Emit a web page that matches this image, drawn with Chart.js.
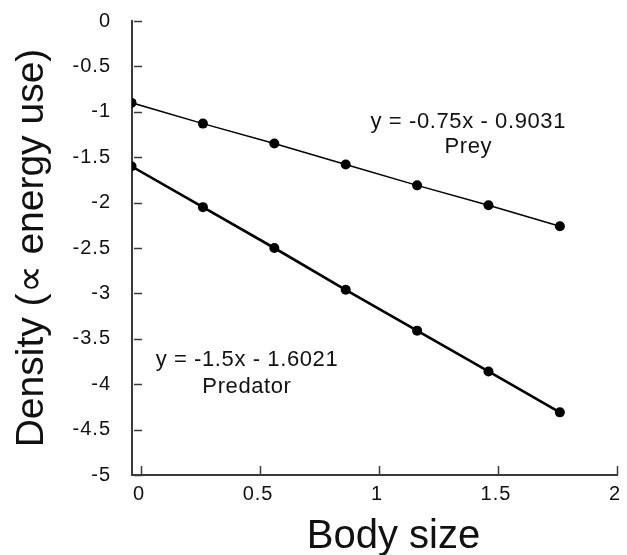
<!DOCTYPE html>
<html>
<head>
<meta charset="utf-8">
<script src="https://cdn.jsdelivr.net/npm/chart.js@4"></script>
<style>
  html, body { margin: 0; padding: 0; background: #fff; }
  #wrap { width: 627px; height: 555px; position: relative; }
</style>
</head>
<body>
<div id="wrap"><canvas id="c" width="627" height="555"></canvas></div>
<script>
// ---- data ----
const bodySize = [-0.04, 0.26, 0.56, 0.86, 1.16, 1.46, 1.76];
const preyDensity = [-0.90, -1.13, -1.35, -1.58, -1.81, -2.03, -2.26];
const predatorDensity = [-1.60, -2.05, -2.50, -2.96, -3.41, -3.86, -4.31];
const xTicks = [0, 0.5, 1, 1.5, 2];
const yTicks = [0, -0.5, -1, -1.5, -2, -2.5, -3, -3.5, -4, -4.5, -5];
const preyLabels = ["y = -0.75x - 0.9031", "Prey"];
const predatorLabels = ["y = -1.5x - 1.6021", "Predator"];
const xTitle = "Body size";
const yTitle = "Density (\u221D energy use)";

// annotation anchors in data units
const annotations = [
  { lines: preyLabels, x: 1.375, y: [-1.18, -1.455] },
  { lines: predatorLabels, x: 0.445, y: [-3.805, -4.10] }
];

const FONT = "'Liberation Sans', Arial, sans-serif";
const AXIS_COLOR = '#3a3a3a';
const TEXT_COLOR = '#111';

const toPts = (xs, ys) => xs.map((x, i) => ({ x: x, y: ys[i] }));

const decorPlugin = {
  id: 'decor',
  beforeDraw(chart) {
    chart.ctx.letterSpacing = '1px';
  },
  afterDraw(chart) {
    const ctx = chart.ctx;
    const xs = chart.scales.x, ys = chart.scales.y;
    const ca = chart.chartArea;
    ctx.save();
    // tick marks (inward)
    ctx.strokeStyle = AXIS_COLOR;
    ctx.lineWidth = 1.5;
    ctx.beginPath();
    yTicks.forEach(v => {
      const py = Math.round(ys.getPixelForValue(v)) + 0.5;
      ctx.moveTo(ca.left + 2, py);
      ctx.lineTo(ca.left + 10, py);
    });
    xTicks.forEach(v => {
      const px = Math.round(xs.getPixelForValue(v)) + 0.5;
      ctx.moveTo(px, ca.bottom);
      ctx.lineTo(px, ca.bottom - 9);
    });
    ctx.stroke();

    // annotations
    ctx.fillStyle = TEXT_COLOR;
    ctx.letterSpacing = '0.6px';
    ctx.font = '22px ' + FONT;
    ctx.textAlign = 'center';
    ctx.textBaseline = 'alphabetic';
    annotations.forEach(a => {
      const px = xs.getPixelForValue(a.x);
      a.lines.forEach((t, i) => {
        ctx.fillText(t, px, ys.getPixelForValue(a.y[i]));
      });
    });

    // axis titles
    ctx.letterSpacing = '0px';
    ctx.font = '40px ' + FONT;
    ctx.textAlign = 'center';
    ctx.textBaseline = 'alphabetic';
    ctx.fillText(xTitle, (ca.left + ca.right) / 2 + 19, chart.height - 7);

    ctx.font = '39px ' + FONT;
    ctx.translate(43, (ca.top + ca.bottom) / 2);
    ctx.rotate(-Math.PI / 2);
    ctx.fillText(yTitle, 0, 0);
    ctx.restore();
  }
};

new Chart(document.getElementById('c'), {
  type: 'scatter',
  data: {
    datasets: [
      {
        label: 'Prey',
        data: toPts(bodySize, preyDensity),
        showLine: true,
        borderColor: '#000',
        backgroundColor: '#000',
        borderWidth: 1.5,
        pointRadius: 5,
        pointBackgroundColor: '#000',
        pointBorderWidth: 0
      },
      {
        label: 'Predator',
        data: toPts(bodySize, predatorDensity),
        showLine: true,
        borderColor: '#000',
        backgroundColor: '#000',
        borderWidth: 2.6,
        pointRadius: 5,
        pointBackgroundColor: '#000',
        pointBorderWidth: 0
      }
    ]
  },
  options: {
    responsive: false,
    animation: false,
    devicePixelRatio: 1,
    layout: { padding: { top: 21, right: 10, left: 0, bottom: 0 } },
    plugins: { legend: { display: false }, tooltip: { enabled: false } },
    scales: {
      x: {
        type: 'linear',
        min: -0.038,
        max: 2,
        afterBuildTicks(s) { s.ticks = xTicks.map(v => ({ value: v })); },
        afterFit(s) { s.height = 80; s.paddingLeft = 0; s.paddingRight = 0; },
        grid: { display: false, drawTicks: false },
        border: { display: true, color: AXIS_COLOR, width: 2 },
        ticks: {
          padding: 7,
          labelOffset: -2,
          color: TEXT_COLOR,
          font: { family: FONT, size: 20 },
          callback: v => String(v)
        }
      },
      y: {
        type: 'linear',
        min: -5,
        max: 0,
        afterBuildTicks(s) { s.ticks = yTicks.map(v => ({ value: v })); },
        afterFit(s) { s.width = 132; s.paddingTop = 0; s.paddingBottom = 0; },
        grid: { display: false, drawTicks: false },
        border: { display: true, color: AXIS_COLOR, width: 2 },
        ticks: {
          padding: 21,
          color: TEXT_COLOR,
          font: { family: FONT, size: 20 },
          callback: v => String(v)
        }
      }
    }
  },
  plugins: [decorPlugin]
});
</script>
</body>
</html>
